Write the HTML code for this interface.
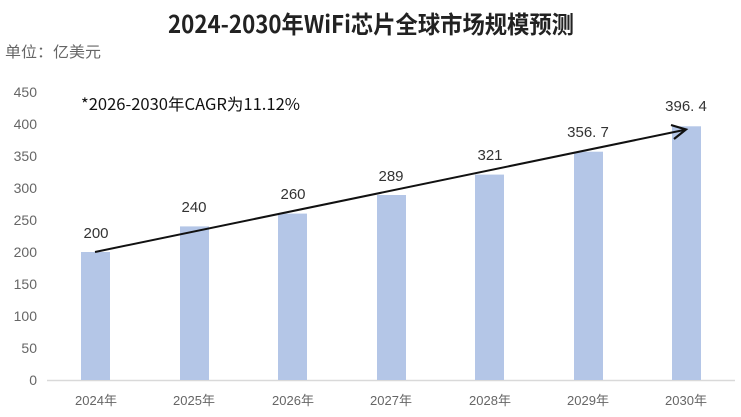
<!DOCTYPE html>
<html><head><meta charset="utf-8"><style>
html,body{margin:0;padding:0;background:#fff;}
svg{display:block;}
</style></head><body>
<svg width="741" height="417" viewBox="0 0 741 417" xmlns="http://www.w3.org/2000/svg">
<rect width="741" height="417" fill="#fff"/>
<text x="168" y="33" textLength="406" lengthAdjust="spacingAndGlyphs" font-family="'WenQuanYi Zen Hei','Noto Sans CJK SC',sans-serif" font-weight="bold" font-size="24" fill="#222">2024-2030年WiFi芯片全球市场规模预测</text>
<text x="5" y="57" textLength="96" lengthAdjust="spacingAndGlyphs" font-family="'WenQuanYi Zen Hei','Noto Sans CJK SC',sans-serif" font-size="15" fill="#666">单位：亿美元</text>
<text x="81" y="110" textLength="219" lengthAdjust="spacingAndGlyphs" font-family="'WenQuanYi Zen Hei','Noto Sans CJK SC',sans-serif" font-size="16" fill="#111">*2026-2030年CAGR为11.12%</text>
<g font-family="'Liberation Sans',sans-serif" font-size="14" fill="#666" text-anchor="end">
<text x="37" y="97">450</text>
<text x="37" y="129">400</text>
<text x="37" y="161">350</text>
<text x="37" y="193">300</text>
<text x="37" y="225">250</text>
<text x="37" y="257">200</text>
<text x="37" y="289">150</text>
<text x="37" y="321">100</text>
<text x="37" y="353">50</text>
<text x="37" y="385">0</text>
</g>
<line x1="47" y1="380.5" x2="735" y2="380.5" stroke="#d9d9d9" stroke-width="1.5"/>
<g fill="#b4c6e7">
<rect x="81" y="252" width="29" height="128"/>
<rect x="180" y="226.4" width="29" height="153.6"/>
<rect x="278" y="213.6" width="29" height="166.4"/>
<rect x="377" y="195" width="29" height="185"/>
<rect x="475" y="174.6" width="29" height="205.4"/>
<rect x="574" y="151.7" width="29" height="228.3"/>
<rect x="672" y="126.3" width="29" height="253.7"/>
</g>
<g font-family="'Liberation Sans',sans-serif" font-size="15" fill="#333" text-anchor="middle">
<text x="96" y="238">200</text>
<text x="194" y="212">240</text>
<text x="293" y="199">260</text>
<text x="391" y="181">289</text>
<text x="490" y="160">321</text>
<text x="588" y="137">356. 7</text>
<text x="686" y="111">396. 4</text>
</g>
<g font-family="'Liberation Sans','Noto Sans CJK SC',sans-serif" font-size="13" fill="#666" text-anchor="middle">
<text x="96" y="405">2024年</text>
<text x="194" y="405">2025年</text>
<text x="293" y="405">2026年</text>
<text x="391" y="405">2027年</text>
<text x="490" y="405">2028年</text>
<text x="588" y="405">2029年</text>
<text x="686" y="405">2030年</text>
</g>
<line x1="95" y1="252" x2="684" y2="130" stroke="#111" stroke-width="2"/>
<path d="M671,125 L686,129.5 L674,139" fill="none" stroke="#111" stroke-width="2.2"/>
</svg>
</body></html>
